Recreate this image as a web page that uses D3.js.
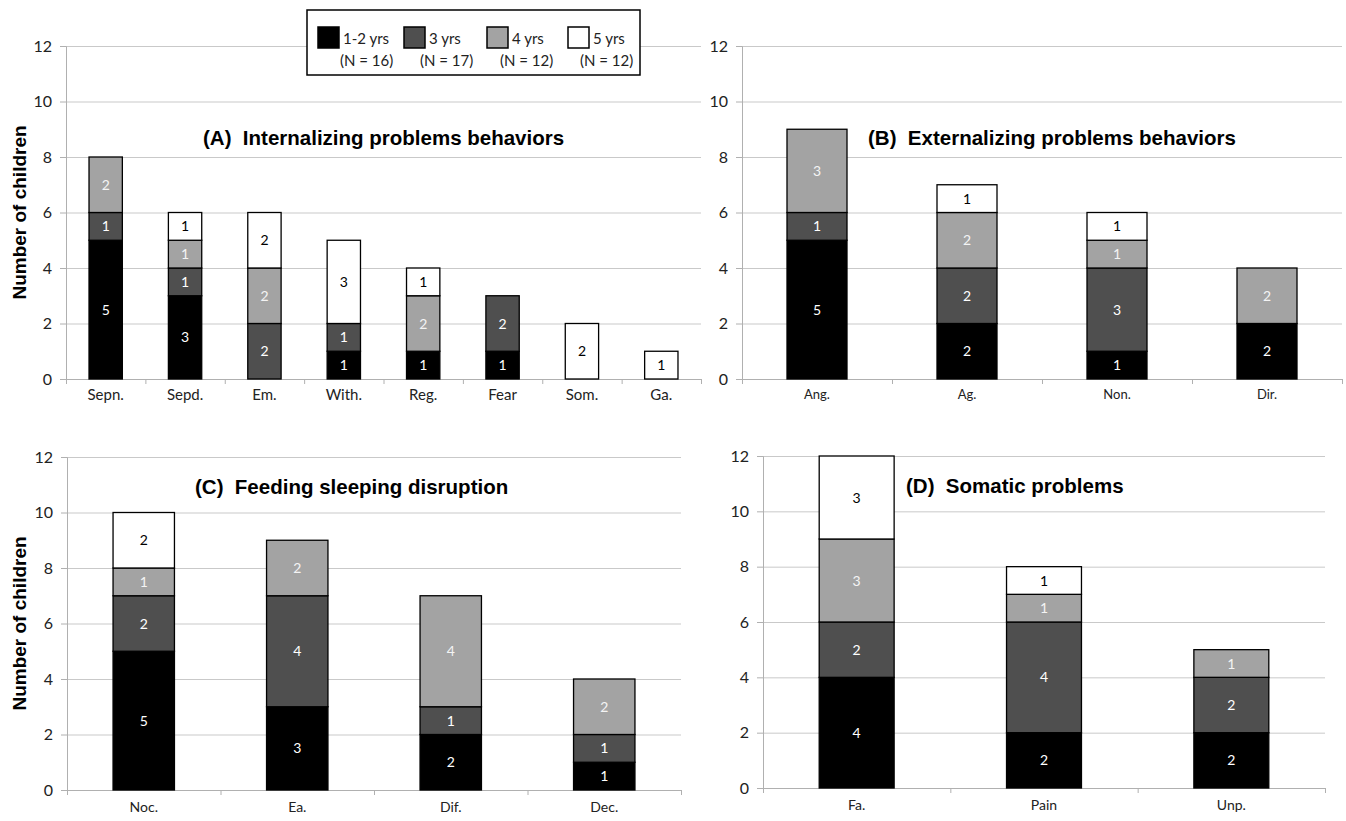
<!DOCTYPE html>
<html>
<head>
<meta charset="utf-8">
<script src="https://cdn.jsdelivr.net/npm/d3@7/dist/d3.min.js"></script>
<style>
  body { margin: 0; background: #fff; }
  svg { display: block; }
  .tick-lbl { font-family: Lato, "Open Sans", sans-serif; }
  .title { font-family: "Liberation Sans", Arial, sans-serif; font-weight: bold; font-size: 20.5px; fill: #000; white-space: pre; }
  .ylab { font-family: "Liberation Sans", Arial, sans-serif; font-weight: bold; font-size: 19px; fill: #000; }
</style>
</head>
<body>
<svg id="chart" width="1346" height="821"></svg>
<script>
// age groups / legend
const ageKeys = ['y12', 'y3', 'y4', 'y5'];
const ageNames = ['1-2 yrs', '3 yrs', '4 yrs', '5 yrs'];
const ageN = ['(N = 16)', '(N = 17)', '(N = 12)', '(N = 12)'];
const yTicks = [0, 2, 4, 6, 8, 10, 12];

// (A) Internalizing problems behaviors
const catsA = ['Sepn.', 'Sepd.', 'Em.', 'With.', 'Reg.', 'Fear', 'Som.', 'Ga.'];
const intern12 = [5, 3, 0, 1, 1, 1, 0, 0];
const intern3  = [1, 1, 2, 1, 0, 2, 0, 0];
const intern4  = [2, 1, 2, 0, 2, 0, 0, 0];
const intern5  = [0, 1, 2, 3, 1, 0, 2, 1];

// (B) Externalizing problems behaviors
const catsB = ['Ang.', 'Ag.', 'Non.', 'Dir.'];
const extern12 = [5, 2, 1, 2];
const extern3  = [1, 2, 3, 0];
const extern4  = [3, 2, 1, 2];
const extern5  = [0, 1, 1, 0];

// (C) Feeding sleeping disruption
const catsC = ['Noc.', 'Ea.', 'Dif.', 'Dec.'];
const feed12 = [5, 3, 2, 1];
const feed3  = [2, 4, 1, 1];
const feed4  = [1, 2, 4, 2];
const feed5  = [2, 0, 0, 0];

// (D) Somatic problems
const catsD = ['Fa.', 'Pain', 'Unp.'];
const soma12 = [4, 2, 2];
const soma3  = [2, 4, 2];
const soma4  = [3, 1, 1];
const soma5  = [3, 1, 0];

const fills = {y12: '#000000', y3: '#4f4f4f', y4: '#a3a3a3', y5: '#ffffff'};
const textFills = {y12: '#ffffff', y3: '#ffffff', y4: '#f4f4f4', y5: '#000000'};

const svg = d3.select('#chart');

function rows(cats, s12, s3, s4, s5) {
  return cats.map((c, i) => ({cat: c, y12: s12[i], y3: s3[i], y4: s4[i], y5: s5[i]}));
}

function drawPanel(cfg) {
  const data = rows(cfg.cats, ...cfg.series);
  const g = svg.append('g');

  const x = d3.scaleBand().domain(cfg.cats).range([cfg.x0, cfg.x1]).paddingInner(cfg.pad).paddingOuter(cfg.pad / 2);
  const xi = d3.scaleLinear().domain([0, cfg.cats.length]).range([cfg.x0, cfg.x1]);
  const y = d3.scaleLinear().domain([0, 12]).range([cfg.y0, cfg.y1]);

  // gridlines
  g.append('g')
      .attr('transform', `translate(${cfg.x0},0)`)
      .call(d3.axisLeft(y).tickValues(yTicks).tickSize(-(cfg.x1 - cfg.x0)).tickFormat(''))
      .call(a => a.select('.domain').remove())
      .call(a => a.selectAll('line').attr('stroke', '#c9c9c9'));

  // y axis
  g.append('g')
      .attr('transform', `translate(${cfg.x0},0)`)
      .call(d3.axisLeft(y).tickValues(yTicks).tickSize(6).tickPadding(8))
      .call(a => a.select('.domain').attr('stroke', '#b0b0b0'))
      .call(a => a.selectAll('line').attr('stroke', '#b0b0b0'))
      .call(a => a.selectAll('text').attr('class', 'tick-lbl').style('font-size', '16px').style('fill', '#222'));

  // x axis line with band-boundary ticks
  g.append('g')
      .attr('transform', `translate(0,${cfg.y0})`)
      .call(d3.axisBottom(xi).tickValues(d3.range(cfg.cats.length + 1)).tickSize(5).tickFormat(''))
      .call(a => a.select('.domain').attr('stroke', '#b0b0b0'))
      .call(a => a.selectAll('line').attr('stroke', '#b0b0b0'));

  // category labels
  g.append('g')
      .attr('transform', `translate(0,${cfg.y0})`)
      .call(d3.axisBottom(x).tickSize(0).tickPadding(cfg.labPad))
      .call(a => a.select('.domain').remove())
      .call(a => a.selectAll('text').attr('class', 'tick-lbl').style('font-size', cfg.labSize + 'px').style('fill', '#222'));

  // stacked bars
  const stacked = d3.stack().keys(ageKeys)(data);
  const layer = g.selectAll('.layer')
    .data(stacked)
    .join('g')
      .attr('class', 'layer');

  const segs = s => s.map(d => ({key: s.key, d0: d[0], d1: d[1], cat: d.data.cat})).filter(d => d.d1 > d.d0);

  layer.selectAll('rect')
    .data(segs)
    .join('rect')
      .attr('x', d => x(d.cat))
      .attr('width', x.bandwidth())
      .attr('y', d => y(d.d1))
      .attr('height', d => y(d.d0) - y(d.d1))
      .attr('fill', d => fills[d.key])
      .attr('stroke', '#000')
      .attr('stroke-width', 1.3);

  layer.selectAll('text')
    .data(segs)
    .join('text')
      .attr('x', d => x(d.cat) + x.bandwidth() / 2)
      .attr('y', d => y((d.d0 + d.d1) / 2))
      .attr('dy', '0.36em')
      .attr('text-anchor', 'middle')
      .attr('class', 'tick-lbl')
      .style('font-size', '14px')
      .style('fill', d => textFills[d.key])
      .text(d => d.d1 - d.d0);

  // title
  svg.append('text')
      .attr('class', 'title')
      .attr('x', cfg.titleX)
      .attr('y', cfg.titleY)
      .text(cfg.title);

  if (cfg.ylab) {
    svg.append('text')
        .attr('class', 'ylab')
        .attr('transform', `translate(26,${(cfg.y0 + cfg.y1) / 2}) rotate(-90)`)
        .attr('text-anchor', 'middle')
        .text('Number of children');
  }
}

drawPanel({cats: catsA, series: [intern12, intern3, intern4, intern5], x0: 66, x1: 701, y0: 379, y1: 46, pad: 0.58,
  labPad: 10, labSize: 15, title: '(A)  Internalizing problems behaviors', titleX: 203, titleY: 145, ylab: true});
drawPanel({cats: catsB, series: [extern12, extern3, extern4, extern5], x0: 742, x1: 1342, y0: 379, y1: 46, pad: 0.6,
  labPad: 11, labSize: 13, title: '(B)  Externalizing problems behaviors', titleX: 868, titleY: 145, ylab: false});
drawPanel({cats: catsC, series: [feed12, feed3, feed4, feed5], x0: 67, x1: 681, y0: 790, y1: 457, pad: 0.6,
  labPad: 12, labSize: 14, title: '(C)  Feeding sleeping disruption', titleX: 195, titleY: 494, ylab: true});
drawPanel({cats: catsD, series: [soma12, soma3, soma4, soma5], x0: 763, x1: 1325, y0: 788, y1: 456, pad: 0.6,
  labPad: 12, labSize: 14, title: '(D)  Somatic problems', titleX: 906, titleY: 493, ylab: false});

// legend
const leg = svg.append('g');
leg.append('rect')
    .attr('x', 307).attr('y', 10).attr('width', 333).attr('height', 65)
    .attr('fill', '#fff').attr('stroke', '#000').attr('stroke-width', 1.5);

const legX = [318, 404, 487, 568];
const legN = [340, 420, 500, 580];
ageKeys.forEach((k, i) => {
  leg.append('rect')
      .attr('x', legX[i]).attr('y', 27).attr('width', 21).attr('height', 21)
      .attr('fill', fills[k]).attr('stroke', '#000').attr('stroke-width', 1.5);
  leg.append('text')
      .attr('class', 'tick-lbl')
      .attr('x', legX[i] + 25).attr('y', 44)
      .style('font-size', '15px').style('fill', '#222')
      .text(ageNames[i]);
  leg.append('text')
      .attr('class', 'tick-lbl')
      .attr('x', legN[i]).attr('y', 66)
      .style('font-size', '15px').style('fill', '#222')
      .text(ageN[i]);
});
</script>
</body>
</html>
